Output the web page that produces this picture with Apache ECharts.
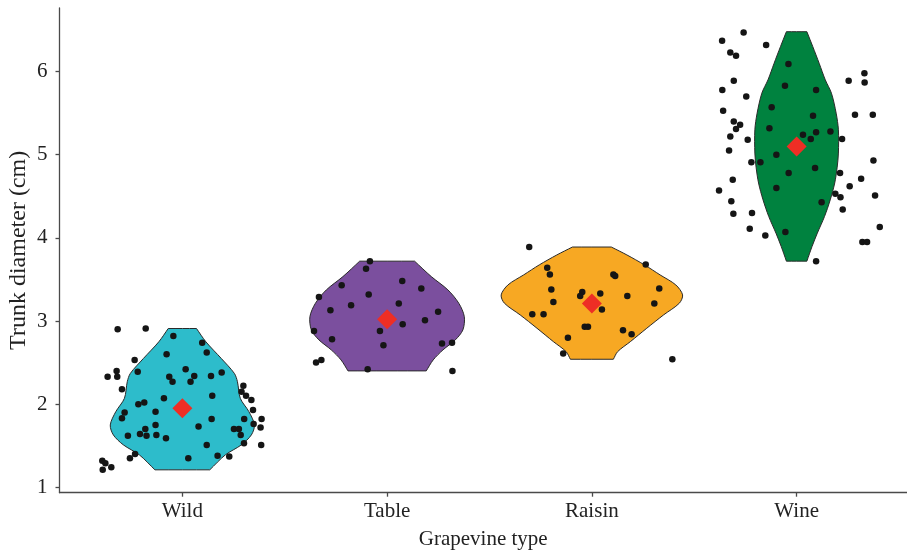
<!DOCTYPE html>
<html>
<head>
<meta charset="utf-8">
<script src="https://cdn.jsdelivr.net/npm/echarts@6/dist/echarts.min.js"></script>
<style>html,body{margin:0;padding:0;background:#fff}#c{width:907px;height:553px}</style>
</head>
<body>
<div id="c"></div>
<script>
const categories = ['Wild', 'Table', 'Raisin', 'Wine'];
const yTicks = [1, 2, 3, 4, 5, 6];
const means = [1.95, 3.02, 3.21, 5.10];

// violin outlines: [value, half-width in category units], top to bottom
const wildProfile = [[2.91,0.069],[2.75,0.115],[2.55,0.190],[2.37,0.254],[2.27,0.269],[2.07,0.283],[1.91,0.325],[1.75,0.352],[1.63,0.337],[1.51,0.288],[1.39,0.210],[1.21,0.134]];
const tableProfile = [[3.72,0.134],[3.534,0.216],[3.374,0.297],[3.214,0.350],[3.053,0.377],[2.893,0.370],[2.773,0.333],[2.653,0.273],[2.532,0.225],[2.40,0.191]];
const raisinProfile = [[3.89,0.095],[3.795,0.171],[3.675,0.257],[3.555,0.333],[3.434,0.410],[3.314,0.443],[3.214,0.427],[3.073,0.350],[2.913,0.268],[2.752,0.188],[2.632,0.126],[2.54,0.105]];
const wineProfile = [[6.48,0.050],[6.30,0.079],[6.10,0.110],[5.90,0.140],[5.74,0.170],[5.50,0.193],[5.30,0.204],[5.02,0.204],[4.85,0.198],[4.66,0.186],[4.457,0.164],[4.256,0.136],[4.057,0.101],[3.895,0.075],[3.72,0.050]];

// jittered observations: [jitter offset, trunk diameter]
const wildPoints = [[-0.316,2.90],[-0.179,2.91],[-0.044,2.82],[0.097,2.74],[0.119,2.62],[-0.077,2.60],[-0.233,2.53],[-0.321,2.40],[-0.218,2.39],[-0.365,2.33],[-0.318,2.33],[0.016,2.42],[-0.064,2.33],[-0.048,2.27],[0.058,2.34],[0.040,2.27],[0.140,2.34],[0.192,2.38],[-0.295,2.18],[-0.090,2.07],[0.146,2.10],[0.298,2.22],[0.289,2.15],[0.311,2.10],[0.337,2.05],[-0.215,2.00],[-0.186,2.02],[0.345,1.93],[-0.282,1.90],[-0.295,1.83],[-0.131,1.91],[0.143,1.82],[0.387,1.82],[0.302,1.82],[-0.131,1.75],[0.348,1.76],[0.382,1.72],[0.079,1.73],[-0.181,1.70],[0.252,1.70],[0.276,1.70],[-0.266,1.62],[-0.207,1.64],[-0.175,1.62],[-0.127,1.63],[-0.080,1.59],[0.285,1.63],[0.301,1.53],[0.119,1.51],[0.385,1.51],[-0.231,1.40],[-0.256,1.35],[0.029,1.35],[0.172,1.38],[0.229,1.37],[-0.391,1.32],[-0.376,1.29],[-0.347,1.24],[-0.389,1.21]];
const tablePoints = [[-0.084,3.72],[-0.103,3.63],[-0.222,3.43],[0.074,3.48],[0.167,3.39],[-0.090,3.32],[-0.333,3.29],[-0.176,3.19],[0.057,3.21],[-0.277,3.13],[0.249,3.11],[0.185,3.01],[0.076,2.96],[-0.035,2.88],[-0.357,2.88],[-0.269,2.78],[-0.018,2.71],[0.268,2.73],[0.317,2.74],[-0.321,2.53],[-0.347,2.50],[-0.095,2.42],[0.319,2.40]];
const raisinPoints = [[-0.306,3.89],[-0.218,3.64],[-0.205,3.56],[0.105,3.56],[0.114,3.54],[0.263,3.68],[-0.198,3.38],[-0.047,3.35],[-0.057,3.30],[0.041,3.33],[0.329,3.39],[0.173,3.30],[-0.188,3.23],[0.305,3.21],[0.049,3.14],[-0.291,3.08],[-0.236,3.08],[-0.035,2.93],[-0.019,2.93],[0.152,2.89],[0.194,2.84],[-0.117,2.80],[-0.140,2.61],[0.393,2.54]];
const winePoints = [[-0.259,6.47],[-0.364,6.37],[-0.149,6.32],[-0.324,6.23],[-0.296,6.19],[-0.040,6.09],[0.331,5.98],[0.254,5.89],[0.332,5.87],[-0.307,5.89],[-0.363,5.78],[-0.057,5.83],[0.095,5.78],[-0.246,5.70],[-0.122,5.57],[-0.359,5.53],[0.080,5.47],[0.285,5.48],[0.372,5.48],[-0.307,5.40],[-0.276,5.36],[-0.296,5.31],[-0.133,5.32],[0.165,5.28],[0.095,5.27],[0.031,5.24],[0.069,5.19],[-0.324,5.22],[-0.239,5.18],[0.222,5.19],[-0.330,5.05],[-0.099,5.00],[-0.221,4.91],[-0.177,4.91],[0.375,4.93],[-0.039,4.78],[0.090,4.84],[0.212,4.78],[-0.312,4.70],[0.315,4.71],[-0.379,4.57],[-0.099,4.60],[0.259,4.62],[0.189,4.53],[0.214,4.49],[0.383,4.51],[-0.319,4.44],[0.122,4.43],[-0.309,4.29],[-0.218,4.30],[0.225,4.34],[-0.229,4.11],[-0.055,4.07],[0.406,4.13],[-0.153,4.03],[0.321,3.95],[0.344,3.95],[0.095,3.72]];

const profiles = [wildProfile, tableProfile, raisinProfile, wineProfile];
const pointSets = [wildPoints, tablePoints, raisinPoints, winePoints];
const fills = ['#2DBCCB', '#7B4F9E', '#F7A823', '#00823F'];

const FONT = "'Liberation Serif', 'DejaVu Serif', serif";
const TXT = {fontFamily: FONT, fontSize: 21, color: '#222'};

const chart = echarts.init(document.getElementById('c'), null, {renderer: 'canvas'});

const scatterData = [];
pointSets.forEach((set, g) => set.forEach(p => scatterData.push([g + 1 + p[0], p[1]])));

const option = {
  animation: false,
  backgroundColor: '#fff',
  grid: {left: 59.5, right: 0, top: 8, bottom: 60.3, containLabel: false, outerBoundsMode: 'none'},
  xAxis: {
    type: 'value', min: 0.4, max: 4.539,
    name: 'Grapevine type', nameLocation: 'middle', nameGap: 36, nameMoveOverlap: false,
    nameTextStyle: TXT,
    axisLine: {show: true, onZero: false, lineStyle: {color: '#4a4a4a', width: 1.3}},
    axisTick: {show: true, customValues: [1, 2, 3, 4], length: 4, lineStyle: {color: '#4a4a4a', width: 1.3}},
    axisLabel: Object.assign({customValues: [1, 2, 3, 4], margin: 8, formatter: v => categories[Math.round(v) - 1]}, TXT),
    splitLine: {show: false}
  },
  yAxis: {
    type: 'value', min: 0.935, max: 6.765,
    name: 'Trunk diameter (cm)', nameLocation: 'middle', nameGap: 29, nameMoveOverlap: false,
    nameTextStyle: Object.assign({}, TXT, {fontSize: 24}),
    axisLine: {show: true, onZero: false, lineStyle: {color: '#4a4a4a', width: 1.3}},
    axisTick: {show: true, customValues: yTicks, length: 4, lineStyle: {color: '#4a4a4a', width: 1.3}},
    axisLabel: Object.assign({customValues: yTicks, margin: 12, formatter: v => String(Math.round(v))}, TXT),
    splitLine: {show: false}
  },
  series: [
    {
      type: 'custom', silent: true, z: 1,
      data: categories.map((c, i) => [i + 1, means[i]]),
      renderItem: function (params, api) {
        const g = params.dataIndex;
        const prof = profiles[g];
        const c = g + 1;
        const right = prof.map(p => api.coord([c + p[1], p[0]]));
        const left = prof.slice().reverse().map(p => api.coord([c - p[1], p[0]]));
        // repeat the end points so the flat top and bottom keep sharp corners
        const pts = [right[0]].concat(right, [right[right.length - 1]], [left[0]], left, [left[left.length - 1]]);
        return {
          type: 'polygon',
          shape: {points: pts, smooth: 0.3},
          style: {fill: fills[g], stroke: '#2a2a2a', lineWidth: 1}
        };
      }
    },
    {
      type: 'scatter', silent: true, z: 3,
      symbol: 'circle', symbolSize: 6.5,
      itemStyle: {color: '#151515', opacity: 1},
      data: scatterData
    },
    {
      type: 'scatter', silent: true, z: 4,
      symbol: 'diamond', symbolSize: 20,
      itemStyle: {color: '#EE2E25', opacity: 1},
      data: means.map((m, i) => [i + 1, m])
    }
  ]
};
chart.setOption(option);
</script>
</body>
</html>
